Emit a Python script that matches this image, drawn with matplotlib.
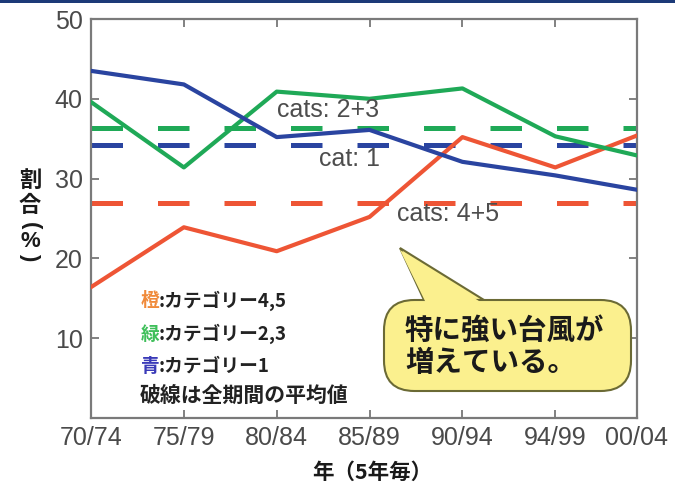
import matplotlib
matplotlib.use("Agg")
import matplotlib.pyplot as plt
from matplotlib.patches import FancyBboxPatch, Polygon, Rectangle

# Five-year periods and share (%) of each typhoon category group
periods = ["70/74", "75/79", "80/84", "85/89", "90/94", "94/99", "00/04"]
cat45 = [16.4, 23.9, 20.9, 25.2, 35.2, 31.4, 35.4]
cat23 = [39.6, 31.4, 40.9, 40.0, 41.3, 35.3, 32.9]
cat1 = [43.5, 41.8, 35.2, 36.1, 32.1, 30.4, 28.6]

# Whole-period averages (dashed lines)
mean45 = 27.0
mean23 = 36.4
mean1 = 34.2

y_ticks = [10, 20, 30, 40, 50]
x_pos = [0, 1, 2, 3, 4, 5, 5.88]

RED = "#ee5535"
GREEN = "#1fa957"
BLUE = "#2a44a0"
JP = ["Noto Sans CJK JP", "DejaVu Sans"]
LAT = ["Liberation Sans", "DejaVu Sans"]

W, H = 675, 486
fig = plt.figure(figsize=(W / 100, H / 100), dpi=100)
fig.patch.set_facecolor("white")


def px(x, y):
    return (x / W, 1 - y / H)


# thin navy strip along the top
fig.patches.append(Rectangle((0, 1 - 3 / H), 1, 3 / H, transform=fig.transFigure,
                             facecolor="#1c3a78", edgecolor="none"))

l, b = px(91, 418)
r, t = px(637, 19)
ax = fig.add_axes([l, b, r - l, t - b])

ax.plot(x_pos, cat45, color=RED, lw=3.0, solid_joinstyle="round", zorder=3)
ax.plot(x_pos, cat23, color=GREEN, lw=3.0, solid_joinstyle="round", zorder=3)
ax.plot(x_pos, cat1, color=BLUE, lw=3.0, solid_joinstyle="round", zorder=3)

for m, c in [(mean23, GREEN), (mean1, BLUE), (mean45, RED)]:
    ax.axhline(m, color=c, lw=3.6, dashes=(6.3, 7.0), zorder=2)

ax.set_xlim(x_pos[0], x_pos[-1])
ax.set_ylim(0, 50)
ax.set_xticks(x_pos)
ax.set_xticklabels(periods)
ax.set_yticks(y_ticks)
ax.set_yticklabels([str(v) for v in y_ticks])
ax.tick_params(axis="both", which="both", direction="in", length=6, width=1.3,
               color="#777777", top=True, right=True, labelsize=18,
               labelcolor="#4a4a4a", pad=6)
for lab in ax.get_xticklabels() + ax.get_yticklabels():
    lab.set_family(LAT)
for s in ax.spines.values():
    s.set_color("#7a7a7a")
    s.set_linewidth(1.6)

# series labels
lab_kw = dict(family=LAT, fontsize=18, color="#4d4d4d", ha="left", va="center", zorder=4)
ax.text(2.0, 38.6, "cats: 2+3", **lab_kw)
ax.text(2.46, 32.5, "cat: 1", **lab_kw)
ax.text(3.3, 25.6, "cats: 4+5", **lab_kw)

# colour key
key_rows = [("橙", "#f08a3a", ":カテゴリー4,5", 301),
            ("緑", "#3fbf5a", ":カテゴリー2,3", 334),
            ("青", "#3a3ab8", ":カテゴリー1", 366)]
for ch, col, rest, yy in key_rows:
    fig.text(*px(141, yy), ch, family=JP, fontsize=13.5, fontweight="bold",
             color=col, ha="left", va="center")
    fig.text(*px(159, yy), rest, family=JP, fontsize=13.5, fontweight="bold",
             color="#222222", ha="left", va="center")
fig.text(*px(140, 395), "破線は全期間の平均値", family=JP, fontsize=15,
         fontweight="bold", color="#222222", ha="left", va="center")

# speech bubble
face = "#fbf08e"
edge = "#6b6a35"
tip = px(400, 248)
bl = px(424, 300)
br = px(484, 300)
fig.patches.append(Polygon([tip, bl, br], closed=True, transform=fig.transFigure,
                           facecolor=face, edgecolor=edge, lw=1.5, zorder=5))
bx0, by0 = px(384, 391)
bx1, by1 = px(631, 300)
fig.patches.append(FancyBboxPatch((bx0, by0), bx1 - bx0, by1 - by0,
                                  boxstyle="round,pad=0,rounding_size=0.045",
                                  mutation_aspect=W / H,
                                  transform=fig.transFigure, facecolor=face,
                                  edgecolor=edge, lw=1.5, zorder=6))
fig.patches.append(Polygon([px(400, 250), px(426, 303), px(482, 303)], closed=True,
                           transform=fig.transFigure, facecolor=face,
                           edgecolor="none", zorder=7))
fig.text(*px(405, 331), "特に強い台風が", family=JP, fontsize=20.5, fontweight="bold",
         color="#1a1a1a", ha="left", va="center", zorder=8)
fig.text(*px(405, 363), "増えている。", family=JP, fontsize=20.5, fontweight="bold",
         color="#1a1a1a", ha="left", va="center", zorder=8)

# axis titles
fig.text(*px(372, 472), "年（5年毎）", family=JP, fontsize=15.5, fontweight="bold",
         color="#1a1a1a", ha="center", va="center")
for ch, yy, fam, rot in [("割", 180, JP, 0), ("合", 205, JP, 0), ("(", 226, LAT, -90),
                         ("%", 241, LAT, 0), (")", 257, LAT, -90)]:
    fig.text(*px(30, yy), ch, family=fam, fontsize=16, fontweight="bold",
             color="#1a1a1a", ha="center", va="center", rotation=rot)

fig.savefig("out.png", dpi=100)
